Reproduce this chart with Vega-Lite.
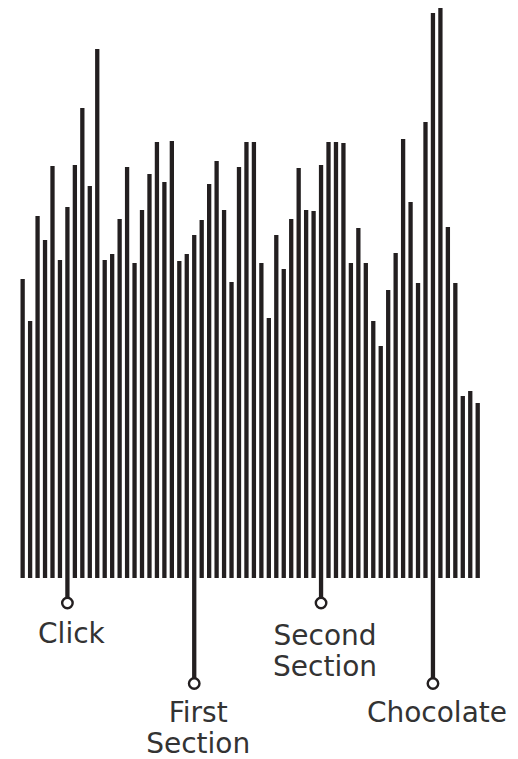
{
  "$schema": "https://vega.github.io/schema/vega-lite/v6.json",
  "width": 518,
  "height": 759,
  "autosize": "none",
  "padding": 0,
  "background": "white",
  "config": {"view": {"stroke": null}},
  "datasets": {
    "bars": [
      {"i": 1, "v": 299}, {"i": 2, "v": 257}, {"i": 3, "v": 362}, {"i": 4, "v": 338},
      {"i": 5, "v": 412}, {"i": 6, "v": 318}, {"i": 7, "v": 371}, {"i": 8, "v": 413},
      {"i": 9, "v": 470}, {"i": 10, "v": 392}, {"i": 11, "v": 529}, {"i": 12, "v": 318},
      {"i": 13, "v": 324}, {"i": 14, "v": 359}, {"i": 15, "v": 411}, {"i": 16, "v": 315},
      {"i": 17, "v": 368}, {"i": 18, "v": 404}, {"i": 19, "v": 436}, {"i": 20, "v": 396},
      {"i": 21, "v": 437}, {"i": 22, "v": 317}, {"i": 23, "v": 324}, {"i": 24, "v": 343},
      {"i": 25, "v": 358}, {"i": 26, "v": 394}, {"i": 27, "v": 417}, {"i": 28, "v": 368},
      {"i": 29, "v": 296}, {"i": 30, "v": 411}, {"i": 31, "v": 436}, {"i": 32, "v": 436},
      {"i": 33, "v": 315}, {"i": 34, "v": 260}, {"i": 35, "v": 343}, {"i": 36, "v": 309},
      {"i": 37, "v": 359}, {"i": 38, "v": 410}, {"i": 39, "v": 368}, {"i": 40, "v": 367},
      {"i": 41, "v": 413}, {"i": 42, "v": 436}, {"i": 43, "v": 436}, {"i": 44, "v": 435},
      {"i": 45, "v": 315}, {"i": 46, "v": 350}, {"i": 47, "v": 315}, {"i": 48, "v": 257},
      {"i": 49, "v": 232}, {"i": 50, "v": 288}, {"i": 51, "v": 325}, {"i": 52, "v": 439},
      {"i": 53, "v": 376}, {"i": 54, "v": 295}, {"i": 55, "v": 456}, {"i": 56, "v": 565},
      {"i": 57, "v": 570}, {"i": 58, "v": 351}, {"i": 59, "v": 295}, {"i": 60, "v": 182},
      {"i": 61, "v": 187}, {"i": 62, "v": 175}
    ],
    "notes": [
      {"i": 7, "stem": -25, "ly": -65, "label": "Click"},
      {"i": 24, "stem": -105.5, "ly": -144, "label": "First\nSection"},
      {"i": 41, "stem": -25, "ly": -67, "label": "Second\nSection"},
      {"i": 56, "stem": -105.5, "ly": -144, "label": "Chocolate"}
    ]
  },
  "layer": [
    {
      "data": {"name": "bars"},
      "mark": {"type": "bar", "width": 4.3, "color": "#231f20"},
      "encoding": {
        "x": {"field": "i", "type": "quantitative", "scale": {"domain": [-1.366, 66.73], "nice": false, "zero": false}, "axis": null},
        "y": {"field": "v", "type": "quantitative", "scale": {"domain": [-181, 578], "nice": false}, "axis": null}
      }
    },
    {
      "data": {"name": "notes"},
      "mark": {"type": "rule", "strokeWidth": 4.3, "color": "#231f20"},
      "encoding": {
        "x": {"field": "i", "type": "quantitative"},
        "y": {"field": "stem", "type": "quantitative"},
        "y2": {"datum": 0}
      }
    },
    {
      "data": {"name": "notes"},
      "mark": {"type": "point", "shape": "circle", "filled": false, "fill": "white", "fillOpacity": 1, "stroke": "#231f20", "strokeWidth": 2.4, "size": 110, "opacity": 1},
      "encoding": {
        "x": {"field": "i", "type": "quantitative"},
        "y": {"field": "stem", "type": "quantitative"}
      }
    },
    {
      "data": {"name": "notes"},
      "mark": {"type": "text", "font": "DejaVu Sans", "fontSize": 28, "fontWeight": "normal", "align": "center", "baseline": "alphabetic", "lineBreak": "\n", "lineHeight": 31, "dx": 4, "color": "#333333"},
      "encoding": {
        "x": {"field": "i", "type": "quantitative"},
        "y": {"field": "ly", "type": "quantitative"},
        "text": {"field": "label"}
      }
    }
  ]
}
